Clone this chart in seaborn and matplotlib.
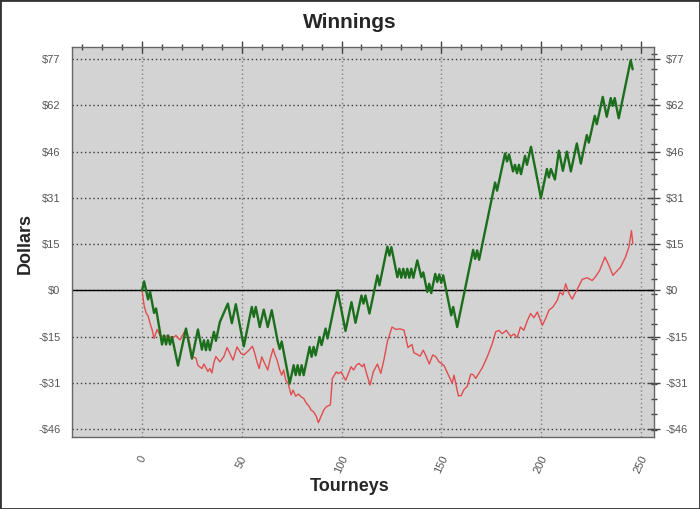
import numpy as np
import pandas as pd
import matplotlib
matplotlib.use("Agg")
import matplotlib.pyplot as plt
import seaborn as sns
from matplotlib.patches import Rectangle
from matplotlib.ticker import FixedLocator, MultipleLocator

# ---- data ----
green_t = [0, 1, 3, 4, 6, 7, 10, 11, 12, 13, 14, 15, 18, 22, 25, 28, 30, 31, 32, 33,
           34, 36, 37, 39, 43, 45, 47, 51, 55, 56, 57, 59, 61, 63, 65, 68, 69, 70, 74,
           76, 77, 78, 79, 80, 81, 84, 85, 86, 87, 89, 90, 92, 93, 98, 102, 105, 107,
           110, 111, 112, 114, 118, 119, 123, 124, 125, 128, 129, 130, 131, 132, 133,
           134, 135, 136, 138, 140, 141, 143, 144, 145, 147, 148, 149, 150, 151, 155,
           156, 158, 166, 167, 168, 169, 177, 178, 182, 183, 184, 186, 187, 188, 189,
           190, 192, 193, 195, 200, 203, 204, 205, 207, 209, 211, 213, 215, 218, 220,
           223, 224, 227, 228, 231, 233, 235, 236, 237, 239, 245, 246]
green_d = [0, 3, -3, -0.5, -7.5, -6, -18, -15, -18, -15, -18, -15.5, -25, -12.7, -22.7,
           -13, -19.7, -16.6, -19.9, -16.6, -19.9, -13.8, -16.8, -10.5, -4.4, -10.9, -4.6,
           -18.6, -5.5, -8.8, -5.5, -12.2, -6.4, -12.2, -6.6, -17, -19.5, -17, -31, -24.9,
           -28.2, -24.9, -28.2, -24.9, -28.2, -18.8, -22.1, -18.8, -21.6, -15.5, -18.2,
           -12.7, -16, 0, -13.5, -3.9, -10.8, -1.7, -4.4, -1.7, -7.7, 5, 1.7, 14.6, 11.6,
           14.4, 4.4, 7.2, 4.2, 7.2, 4.2, 7.2, 4.2, 7.2, 4.2, 10, 4.4, 6, -0.5, 2.2, -0.9,
           5.5, 2.8, 5.3, 2.5, 5.0, -8.3, -5.5, -12.2, 13.5, 10.5, 13.3, 10.2, 35.9, 33.2,
           45.6, 42.9, 45.3, 39.6, 41.8, 39.0, 41.8, 38.7, 44.8, 41.8, 47.8, 30.8, 40.4,
           37.6, 40.4, 36.9, 46.5, 39.8, 46.2, 39.6, 48.9, 42.2, 51.7, 49.2, 58.1, 55.3,
           64.4, 57.8, 64.0, 61.4, 64.0, 57.3, 76.6, 73.6]

red_t = [0, 1, 2, 3, 4, 5, 6, 7.5, 9, 11, 13, 15, 17, 19, 21, 22, 24, 25, 27, 28, 30, 31,
         33, 34, 35, 36, 37, 39, 41, 42.6, 44, 45.6, 47.6, 49.6, 51, 53.6, 55.3, 56.3,
         57.6, 58.7, 60, 61.3, 63, 64.3, 65.7, 66.7, 67.7, 69, 70, 71, 72, 73.3, 74.7,
         75.7, 77, 78.4, 79.7, 81, 82.4, 83.7, 84.7, 86, 87.4, 88.4, 89.7, 91.1, 92.4,
         94.4, 95.4, 96.4, 97.4, 98.4, 99.8, 101.1, 102.1, 103.4, 104.8, 106.1, 107.4,
         108.8, 110.4, 111.3, 112.5, 114.3, 116, 118, 119.7, 121.3, 123, 125.3, 127.3,
         129.3, 131.3, 133.3, 135.3, 136.3, 138, 139.4, 141, 142.4, 144, 145.7, 147.2,
         148.9, 151.4, 153.9, 155.5, 156.4, 158.6, 160, 161.4, 163, 164.8, 166, 167.3,
         170.6, 173.1, 175.6, 177.3, 178.9, 180.6, 182.6, 184.8, 186.5, 188.1, 189.7,
         191.4, 193.1, 194.8, 196.5, 198.2, 200.7, 202.3, 204, 206, 208.2, 209.5, 211,
         212.4, 214, 215.7, 218.2, 220.7, 223.2, 225.7, 227.4, 229.4, 232.1, 234.1,
         236.1, 238.3, 239.9, 242.4, 244.1, 245.4, 246.1]
red_d = [0, -5, -7.5, -8.5, -11, -13, -16, -13, -15, -15.5, -15, -16, -15, -16.5, -14,
         -13, -18, -22, -22.5, -25, -26, -24.5, -27, -26, -27.5, -24, -22, -23.8, -22,
         -19, -21, -23.2, -18.8, -21, -21.5, -19.9, -18.6, -20.5, -23.8, -26, -22.1,
         -24.1, -26.5, -22.7, -19.4, -21.6, -23.2, -26.5, -28.2, -26.5, -29.9, -31,
         -34.8, -33.2, -35.2, -34.5, -35.4, -35.9, -37.6, -38.5, -39.8, -40.4, -42, -44,
         -42, -39.8, -38.7, -38.1, -29.3, -28.2, -27.1, -27.7, -27.1, -28.8, -29.9,
         -27.7, -25.4, -26.5, -24.9, -24.3, -25.4, -24.5, -27.5, -31.5, -27, -24.5,
         -27.6, -23, -17, -12.2, -13, -12.8, -13.2, -19, -18, -20.8, -21.3, -21.9, -19.9,
         -21.9, -24.5, -21.5, -22, -23.8, -25, -28.6, -30.9, -28.2, -35.1, -35, -33, -32,
         -27.9, -28, -29.3, -25.7, -22.1, -17.7, -13.8, -13.3, -14.4, -13.3, -15.3,
         -14.5, -15.7, -12.2, -13.3, -10.2, -7.7, -9.1, -7.2, -11.6, -9.4, -6.6, -5.5,
         -3.3, -0.55, -1.5, 2.2, -1, -2.9, 0.4, 3.7, 4.2, 3.3, 4.6, 6.6, 11.1, 8.3, 5.0,
         6.6, 7.7, 11.1, 14.4, 19.9, 15.5]

y_ticks = [-46.2, -30.8, -15.4, 0, 15.4, 30.8, 46.2, 61.6, 77]
y_labels = ["-$46", "-$31", "-$15", "$0", "$15", "$31", "$46", "$62", "$77"]
x_ticks = [0, 50, 100, 150, 200, 250]
x_labels = ["0", "50", "100", "150", "200", "250"]

title = "Winnings"
x_title = "Tourneys"
y_title = "Dollars"

# ---- style ----
sns.set_style("white")
plt.rcParams['font.family'] = ['Liberation Sans', 'DejaVu Sans']

fig = plt.figure(figsize=(7.0, 5.09), dpi=100)
ax = fig.add_axes([0.1033, 0.142, 0.831, 0.765])
ax.set_facecolor('#d3d3d3')

green_df = pd.DataFrame({"t": green_t, "d": green_d})
red_df = pd.DataFrame({"t": red_t, "d": red_d})

ax.axhline(0, color='black', lw=1.0, zorder=1.5)
sns.lineplot(data=red_df, x="t", y="d", ax=ax, color='#e24c4e', lw=1.0,
             estimator=None, sort=False, zorder=3)
sns.lineplot(data=green_df, x="t", y="d", ax=ax, color='#1b6e1b', lw=1.7,
             estimator=None, sort=False, zorder=4)

ax.set_xlim(-35, 256.7)
ax.set_ylim(-48.7, 80.9)

ax.set_xticks(x_ticks)
ax.set_xticklabels(x_labels, rotation=65)
ax.set_yticks(y_ticks)
ax.set_yticklabels(y_labels)
ax.xaxis.set_minor_locator(MultipleLocator(10))
ax.yaxis.set_minor_locator(FixedLocator(np.arange(-46.3, 80.5, 5.0)))

ax.set_axisbelow(True)
ax.grid(axis='y', which='major', linestyle=(0, (1, 2)), color='#3a3a3a', lw=1.0)
ax.grid(axis='x', which='major', linestyle=(0, (1, 2)), color='#808080', lw=1.0)

ax.tick_params(which='both', direction='inout', top=True, right=True,
               labelright=True, color='#444444', labelcolor='#555555',
               labelsize=8, width=1.0)
ax.tick_params(which='major', length=9, pad=4)
ax.tick_params(which='minor', length=5)
ax.tick_params(axis='x', which='major', pad=8)

for s in ax.spines.values():
    s.set_color('#666666')
    s.set_linewidth(1.0)

ax.set_xlabel("")
ax.set_ylabel("")
fig.text(0.5, 0.955, title, ha='center', va='center', fontsize=15, fontweight='bold')
fig.text(0.5, 0.045, x_title, ha='center', va='center', fontsize=13, fontweight='bold')
fig.text(0.036, 0.522, y_title, ha='center', va='center', rotation=90,
         fontsize=13, fontweight='bold')

fig.patches.append(Rectangle((0, 0), 1, 1, transform=fig.transFigure, fill=False,
                             edgecolor='#333333', lw=2.0))

fig.savefig('out.png', dpi=100)
